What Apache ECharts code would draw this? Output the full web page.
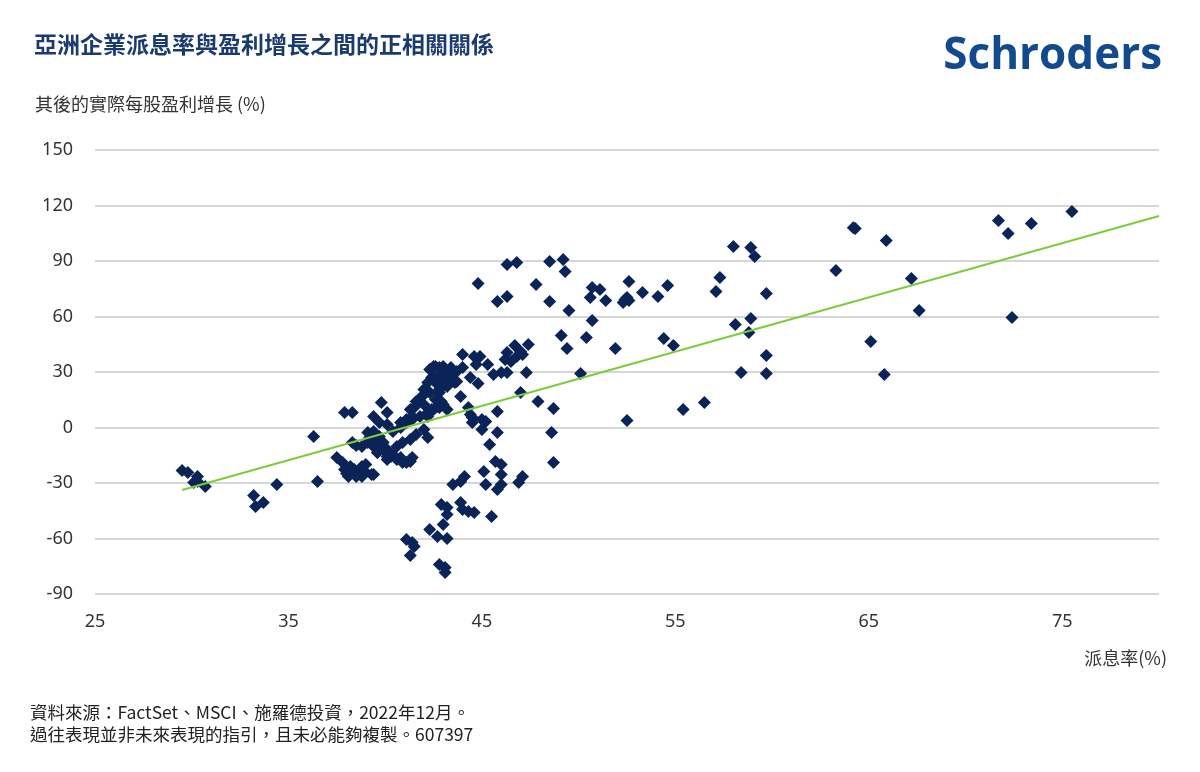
<!DOCTYPE html>
<html>
<head>
<meta charset="utf-8">
<title>亞洲企業派息率與盈利增長</title>
<script src="https://cdn.jsdelivr.net/npm/echarts@6/dist/echarts.min.js"></script>
<style>
    html, body { margin: 0; padding: 0; background: #fff; }
    #chart { width: 1200px; height: 772px; }
</style>
</head>
<body>
<div id="chart"></div>
<script>
// payout ratio (%) vs subsequent real EPS growth (%)
var payoutRatio = [
    29.5, 29.8, 30.3, 30.1, 30.3, 30.7, 33.2, 33.3, 33.7, 34.4,
    36.3, 36.5, 37.9, 38.3, 37.5, 38.5, 37.8, 38.2, 38.4, 38.7,
    38.1, 38.5, 38.8, 39.3, 37.9, 38.0, 39.0, 38.9, 39.8, 39.4,
    40.1, 39.7, 40.1, 39.4, 39.7, 39.2, 39.1, 39.5, 39.9, 40.1,
    39.6, 40.3, 40.6, 40.9, 41.3, 40.4, 40.8, 41.1, 41.4, 41.8,
    42.2, 42.4, 42.7, 43.0, 42.0, 41.6, 41.3, 40.9, 40.6, 42.2,
    41.5, 41.7, 41.9, 42.1, 42.2, 42.4, 42.3, 42.6, 42.8, 43.1,
    43.3, 43.6, 43.2, 42.8, 42.6, 42.5, 43.0, 42.7, 42.5, 43.0,
    43.3, 43.7, 42.7, 43.2, 42.8, 42.3, 42.0, 41.9, 41.6, 43.5,
    43.4, 42.9, 43.7, 42.0, 42.9, 43.9, 38.8, 38.8, 39.4, 39.9,
    40.1, 40.2, 40.8, 41.3, 39.1, 39.2, 39.4, 39.6, 39.9, 40.1,
    40.4, 41.1, 41.4, 38.3, 41.3, 41.4, 41.1, 40.8, 42.2, 42.5,
    42.8, 43.2, 44.0, 44.9, 44.7, 45.3, 44.0, 44.6, 46.7, 47.0,
    47.4, 46.3, 46.2, 46.5, 46.8, 47.1, 45.6, 46.0, 46.3, 47.3,
    44.4, 44.8, 47.0, 47.9, 44.3, 44.4, 44.5, 45.8, 45.2, 45.0,
    45.8, 45.4, 45.7, 46.0, 45.1, 46.0, 47.1, 46.9, 44.1, 43.9,
    43.5, 45.2, 46.0, 45.8, 42.9, 43.2, 43.2, 43.9, 44.0, 44.3,
    44.6, 45.5, 43.0, 42.3, 42.7, 43.2, 41.1, 41.4, 41.5, 41.3,
    42.8, 43.1, 43.1, 44.8, 46.3, 46.8, 45.8, 46.3, 47.8, 48.5,
    49.2, 49.3, 48.5, 49.5, 50.7, 51.1, 50.6, 51.4, 52.6, 52.4,
    52.6, 52.3, 52.5, 53.3, 54.1, 54.6, 50.7, 49.1, 50.4, 49.4,
    51.9, 54.4, 54.9, 58.1, 58.9, 58.8, 50.1, 48.7, 48.6, 52.5,
    55.4, 56.5, 58.4, 59.7, 59.7, 58.0, 58.9, 59.1, 57.3, 57.1,
    59.7, 63.3, 64.3, 64.2, 65.9, 67.2, 67.6, 65.1, 65.8, 71.7,
    72.2, 73.4, 75.5, 72.4, 48.7, 45.0, 44.5
];
var epsGrowth = [
    -23.2, -24.3, -26.5, -29.7, -29.2, -31.9, -36.8, -42.7, -40.5, -30.8,
    -4.9, -29.2, 8.1, 8.1, -16.2, -9.7, -18.9, -21.1, -22.7, -24.3,
    -26.5, -26.5, -26.5, -25.4, -22.7, -24.9, -20.0, -23.2, 13.5, 5.9,
    8.1, 2.7, 1.6, -2.2, -4.9, -5.4, -8.1, -9.2, -10.3, -11.9,
    -13.5, -15.7, -17.3, -18.9, -18.4, -2.2, 0.0, 2.7, 4.3, 5.9,
    8.1, 9.7, 11.4, 12.4, -1.1, -3.8, -6.5, -8.1, -10.3, -5.4,
    10.8, 13.5, 16.8, 20.5, 24.3, 27.0, 31.4, 33.0, 32.4, 30.3,
    27.6, 24.3, 22.2, 18.9, 15.1, 27.0, 25.9, 23.2, 33.0, 33.0,
    29.7, 24.9, 27.0, 24.3, 20.5, 18.9, 20.5, 16.8, 14.1, 28.6,
    32.4, 29.2, 30.3, 12.4, 14.1, 16.8, -10.3, -21.1, -25.4, -8.1,
    -17.3, -13.5, -16.2, -17.3, -2.7, -6.5, -10.3, -13.5, -11.9, -15.7,
    -14.6, -18.9, -16.2, -8.1, 9.7, 5.9, 4.3, 2.7, 5.9, 9.7,
    10.8, 9.7, 39.5, 38.4, 34.1, 34.1, 32.4, 38.4, 44.3, 41.1,
    44.9, 40.5, 36.8, 35.7, 38.4, 39.5, 28.6, 29.7, 29.7, 29.7,
    27.0, 23.8, 18.9, 14.1, 10.8, 7.0, 5.4, 8.6, 3.2, -1.1,
    -2.7, -9.2, -18.4, -20.0, -23.8, -25.4, -26.5, -29.7, -26.5, -29.2,
    -30.8, -30.8, -30.8, -33.5, -41.6, -43.2, -47.0, -40.5, -44.3, -45.4,
    -45.9, -48.1, -52.4, -55.1, -58.9, -60.0, -60.5, -62.2, -64.3, -69.2,
    -74.1, -75.7, -78.4, 77.8, 88.1, 89.2, 68.1, 70.8, 77.3, 89.7,
    90.8, 84.3, 68.1, 63.2, 75.7, 74.6, 70.3, 68.6, 78.9, 69.2,
    68.6, 67.6, 70.3, 73.0, 70.8, 76.8, 57.8, 49.7, 48.6, 42.7,
    42.7, 48.1, 44.3, 55.7, 58.9, 51.4, 29.2, 10.3, -2.7, 3.8,
    9.7, 13.5, 29.7, 29.2, 38.9, 97.8, 97.3, 92.4, 81.1, 73.5,
    72.4, 84.9, 107.6, 108.0, 101.1, 80.5, 63.2, 46.5, 28.6, 111.9,
    104.9, 110.3, 116.8, 59.5, -18.9, 4.3, 2.7
];
// fitted trend line end points
var trendX = [29.5, 80];
var trendY = [-33.8, 114.3];
var yTicks = [-90, -60, -30, 0, 30, 60, 90, 120, 150];

var navy = '#0a2458';
var chart = echarts.init(document.getElementById('chart'));

function buildPairs(xs, ys) {
    var out = [];
    for (var i = 0; i < xs.length; i++) {
        out.push([xs[i], ys[i]]);
    }
    return out;
}

function genOption() {
    return {
        backgroundColor: '#ffffff',
        animation: false,
        textStyle: { fontFamily: '"Noto Sans", "Noto Sans CJK TC", sans-serif' },
        grid: { left: 95, right: 41, top: 150, bottom: 178, containLabel: false },
        xAxis: {
            type: 'value',
            min: 25,
            max: 80,
            interval: 10,
            axisLine: { show: false },
            axisTick: { show: false },
            splitLine: { show: false },
            axisLabel: {
                showMaxLabel: false,
                margin: 19,
                fontSize: 18,
                color: '#333333'
            }
        },
        yAxis: {
            type: 'value',
            min: yTicks[0],
            max: yTicks[yTicks.length - 1],
            interval: 30,
            axisLine: { show: false },
            axisTick: { show: false },
            splitLine: { lineStyle: { color: '#c9c9c9', width: 1.5 } },
            axisLabel: {
                margin: 22,
                fontSize: 18,
                color: '#333333'
            }
        },
        graphic: [
            {
                type: 'text', left: 34, top: 33,
                style: {
                    text: '亞洲企業派息率與盈利增長之間的正相關關係',
                    font: 'bold 23px "Noto Sans CJK TC", sans-serif',
                    fill: '#1b3a6e'
                }
            },
            {
                type: 'text', right: 38, top: 34,
                style: {
                    text: 'Schroders',
                    font: 'bold 44px "Open Sans", "Noto Sans", sans-serif',
                    fill: '#134a8e'
                }
            },
            {
                type: 'text', left: 35, top: 95,
                style: {
                    text: '其後的實際每股盈利增長 (%)',
                    font: '18px "Noto Sans CJK TC", sans-serif',
                    fill: '#333333'
                }
            },
            {
                type: 'text', right: 33, top: 649,
                style: {
                    text: '派息率(%)',
                    font: '18px "Noto Sans CJK TC", sans-serif',
                    fill: '#333333'
                }
            },
            {
                type: 'text', left: 30, top: 701,
                style: {
                    text: '資料來源：FactSet、MSCI、施羅德投資，2022年12月。\n過往表現並非未來表現的指引，且未必能夠複製。607397',
                    font: '17.5px "Noto Sans CJK TC", sans-serif',
                    lineHeight: 22,
                    fill: '#222222'
                }
            }
        ],
        series: [
            {
                name: '公司',
                type: 'scatter',
                symbol: 'diamond',
                symbolSize: 13,
                itemStyle: { color: navy, opacity: 1 },
                data: buildPairs(payoutRatio, epsGrowth),
                z: 3
            },
            {
                name: '趨勢線',
                type: 'line',
                data: buildPairs(trendX, trendY),
                symbol: 'none',
                lineStyle: { color: '#7ccc3c', width: 2 },
                z: 4
            }
        ]
    };
}

chart.setOption(genOption());
window.onresize = function () {
    chart.resize();
};
</script>
</body>
</html>
